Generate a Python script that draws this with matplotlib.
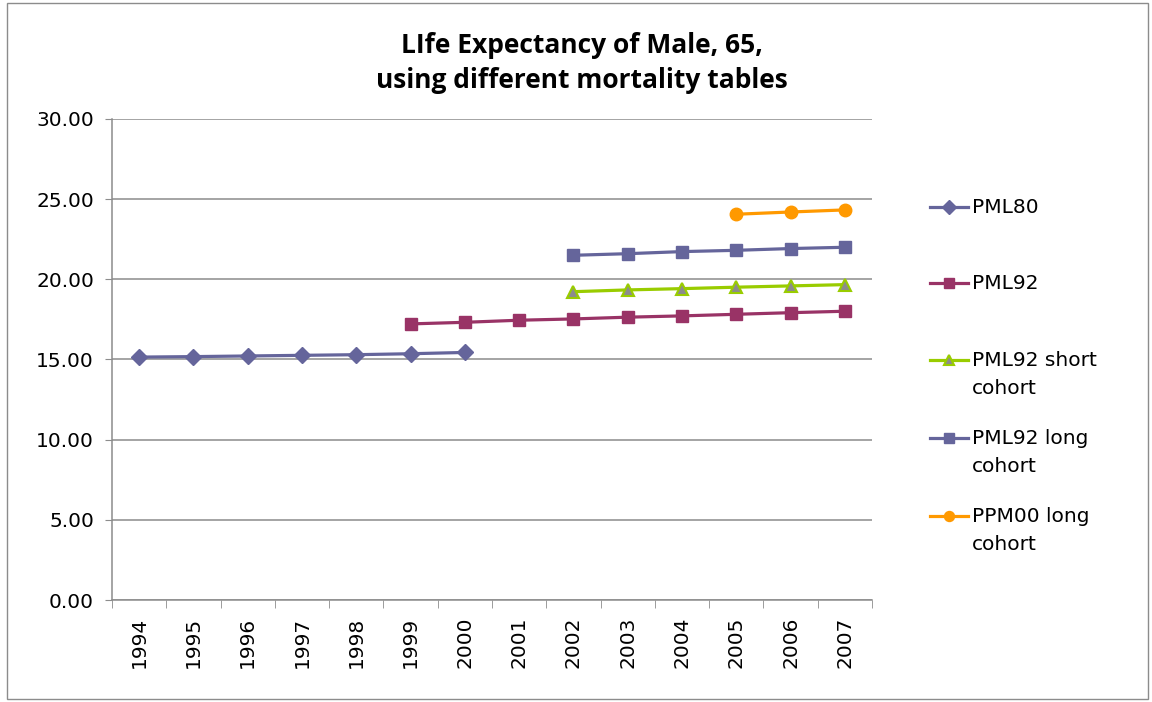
import matplotlib.pyplot as plt
from matplotlib.lines import Line2D
from matplotlib.patches import Rectangle

# Categories and series values
years = ["1994", "1995", "1996", "1997", "1998", "1999", "2000",
         "2001", "2002", "2003", "2004", "2005", "2006", "2007"]

pml80_years = ["1994", "1995", "1996", "1997", "1998", "1999", "2000"]
pml80 = [15.15, 15.18, 15.22, 15.26, 15.30, 15.36, 15.44]

pml92_years = ["1999", "2000", "2001", "2002", "2003", "2004", "2005", "2006", "2007"]
pml92 = [17.22, 17.32, 17.45, 17.53, 17.64, 17.72, 17.82, 17.92, 18.01]

short_years = ["2002", "2003", "2004", "2005", "2006", "2007"]
pml92_short = [19.23, 19.34, 19.42, 19.51, 19.59, 19.67]

long_years = ["2002", "2003", "2004", "2005", "2006", "2007"]
pml92_long = [21.50, 21.60, 21.73, 21.81, 21.92, 22.00]

ppm00_years = ["2005", "2006", "2007"]
ppm00_long = [24.06, 24.20, 24.33]

yticks = [0, 5, 10, 15, 20, 25, 30]

series = [
    ("PML80", pml80_years, pml80, dict(color="#65659b", marker="D", ms=8.5, mfc="#65659b", mec="#65659b")),
    ("PML92", pml92_years, pml92, dict(color="#993366", marker="s", ms=8.5, mfc="#993366", mec="#993366")),
    ("PML92 short\ncohort", short_years, pml92_short, dict(color="#99cc00", marker="^", ms=9, mfc="#8c8c8c", mec="#99cc00", mew=1.5)),
    ("PML92 long\ncohort", long_years, pml92_long, dict(color="#65659b", marker="s", ms=8.5, mfc="#65659b", mec="#65659b")),
    ("PPM00 long\ncohort", ppm00_years, ppm00_long, dict(color="#ff9900", marker="o", ms=9, mfc="#ff9900", mec="#ff9900")),
]

fig = plt.figure(figsize=(11.52, 7.02), dpi=100)
ax = fig.add_axes([112 / 1152, 102 / 702, 760 / 1152, 481 / 702])

pos = {y: i for i, y in enumerate(years)}
for label, xs, ys, style in series:
    ax.plot([pos[x] for x in xs], ys, lw=2.3, **style)

# Formatting plot.
ax.set_xlim(-0.5, len(years) - 0.5)
ax.set_ylim(0, 30)
ax.set_yticks(yticks)
ax.set_yticklabels(["%.2f" % v for v in yticks])
ax.set_xticks(range(len(years)))
ax.set_xticklabels(years, rotation=90)
ax.set_xticks([i - 0.5 for i in range(len(years) + 1)], minor=True)
ax.tick_params(axis="x", which="major", length=0, pad=12, labelsize=14.5)
ax.tick_params(axis="x", which="minor", length=6, color="#8c8c8c")
ax.tick_params(axis="y", length=5, color="#8c8c8c", labelsize=14.5, pad=8)
ax.grid(axis="y", color="#8c8c8c", lw=1.1)
ax.set_axisbelow(True)
for side in ["top", "right"]:
    ax.spines[side].set_visible(False)
for side in ["left", "bottom"]:
    ax.spines[side].set_color("#8c8c8c")
    ax.spines[side].set_linewidth(1.1)

fig.text(0.505, 1 - 63 / 702, "LIfe Expectancy of Male, 65,\nusing different mortality tables",
         ha="center", va="center", fontsize=19, fontweight="bold",
         family="Open Sans", linespacing=1.4)

# Legend drawn by hand so that the handle sits next to the first line of text
legend_y = [207, 283, 360, 438, 516]
for (label, xs, ys, style), ly in zip(series, legend_y):
    yf = 1 - ly / 702
    fig.add_artist(Line2D([930 / 1152, 968 / 1152], [yf, yf], lw=2.3,
                          color=style["color"], transform=fig.transFigure))
    st = {k: v for k, v in style.items() if k != "color"}
    st["ms"] = st["ms"] * 0.8
    fig.add_artist(Line2D([949 / 1152], [yf], lw=0, transform=fig.transFigure, **st))
    fig.text(972 / 1152, yf + 0.0125, label, ha="left", va="top",
             fontsize=14.5, linespacing=1.6)

fig.add_artist(Rectangle((7 / 1152, 3 / 702), 1141 / 1152, 696 / 702,
                         transform=fig.transFigure, fill=False,
                         edgecolor="#8c8c8c", lw=1))

plt.savefig("out.png", dpi=100)
